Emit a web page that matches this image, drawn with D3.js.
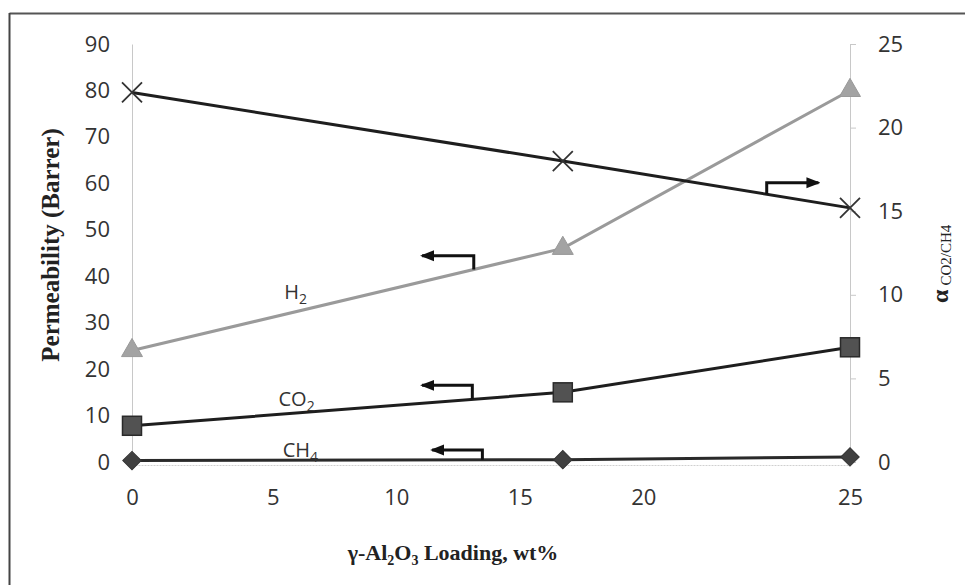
<!DOCTYPE html>
<html>
<head>
<meta charset="utf-8">
<script src="https://cdn.jsdelivr.net/npm/d3@7/dist/d3.min.js"></script>
<style>
  html, body { margin: 0; padding: 0; background: #fff; }
  svg { display: block; }
</style>
</head>
<body>
<svg id="chart" width="965" height="585"></svg>
<script>
// ---- data ----
const loading = [0, 15, 25];                 // γ-Al2O3 loading, wt%
const h2 = [24, 46, 80];                     // Barrer (left axis)
const co2 = [7.8, 15, 24.7];                 // Barrer (left axis)
const ch4 = [0.3, 0.5, 1.1];                 // Barrer (left axis)
const selectivity = [22.1, 18.0, 15.2];      // α CO2/CH4 (right axis)
const xTicks = [0, 5, 10, 15, 20, 25];
const yLeftTicks = [0, 10, 20, 30, 40, 50, 60, 70, 80, 90];
const yRightTicks = [0, 5, 10, 15, 20, 25];
// annotation arrows: elbow at x0 (on series), arrow tip at x1, top level yTop (axis units)
const arrows = [
  { series: "h2",  axis: "L", x0: 11.9, x1: 10.1, yTop: 44.4 },
  { series: "co2", axis: "L", x0: 11.85, x1: 10.1, yTop: 16.5 },
  { series: "ch4", axis: "L", x0: 12.2, x1: 10.45, yTop: 2.6 },
  { series: "sel", axis: "R", x0: 22.1, x1: 23.9, yTop: 16.7 }
];

const svg = d3.select("#chart");
const x = d3.scaleLinear().domain([0, 25]).range([132, 850]);
const yL = d3.scaleLinear().domain([0, 90]).range([462, 44]);
const yR = d3.scaleLinear().domain([0, 25]).range([462, 44]);
// tick labels of the source are not evenly spread along the data axis
const xLab = d3.scaleLinear().domain([0, 5, 20, 25]).range([x(0), x(4.9), x(17.8), x(25)]);

const seriesVals = { h2: h2, co2: co2, ch4: ch4, sel: selectivity };
const interp = (vals, xv) => d3.scaleLinear().domain(loading).range(vals)(xv);

// ---- frame ----
svg.append("line").attr("x1", 9.5).attr("x2", 965).attr("y1", 13.5).attr("y2", 13.5)
  .attr("stroke", "#555").attr("stroke-width", 2);
svg.append("line").attr("x1", 9.5).attr("x2", 9.5).attr("y1", 13).attr("y2", 585)
  .attr("stroke", "#444").attr("stroke-width", 2);

const tickFont = "'Open Sans', 'DejaVu Sans', sans-serif";

// ---- axes ----
const gL = svg.append("g").attr("transform", `translate(${x(0)},0)`)
  .call(d3.axisLeft(yL).tickValues(yLeftTicks).tickSize(0).tickPadding(22));
gL.select(".domain").attr("stroke", "#c8c8c8").attr("stroke-width", 1);
gL.selectAll("text").attr("font-family", tickFont).attr("font-size", 22).attr("fill", "#333");

const gR = svg.append("g").attr("transform", `translate(${x(25)},0)`)
  .call(d3.axisRight(yR).tickValues(yRightTicks).tickSize(6).tickPadding(22));
gR.select(".domain").attr("stroke", "#c8c8c8").attr("stroke-width", 1);
gR.selectAll(".tick line").attr("stroke", "#c8c8c8");
gR.selectAll("text").attr("font-family", tickFont).attr("font-size", 22).attr("fill", "#333");

const gB = svg.append("g").attr("transform", `translate(0,${yL(0)})`)
  .call(d3.axisBottom(xLab).tickValues(xTicks).tickSize(0).tickPadding(27));
gB.select(".domain").remove();
gB.selectAll("text").attr("font-family", tickFont).attr("font-size", 22).attr("fill", "#333");

const gBase = svg.append("g").attr("transform", `translate(0,${yL(0) + 3})`)
  .call(d3.axisBottom(x).tickValues([]).tickSizeOuter(0));
gBase.select(".domain").attr("stroke", "#d0d0d0").attr("stroke-width", 1).attr("stroke-dasharray", "2,1");

// ---- lines ----
const lineL = d3.line().x((d, i) => x(loading[i])).y(d => yL(d));
const lineR = d3.line().x((d, i) => x(loading[i])).y(d => yR(d));

svg.append("path").datum(h2).attr("d", lineL).attr("fill", "none")
  .attr("stroke", "#9a9a9a").attr("stroke-width", 3);
svg.append("path").datum(co2).attr("d", lineL).attr("fill", "none")
  .attr("stroke", "#1e1e1e").attr("stroke-width", 3);
svg.append("path").datum(ch4).attr("d", lineL).attr("fill", "none")
  .attr("stroke", "#2a2a2a").attr("stroke-width", 3);
svg.append("path").datum(selectivity).attr("d", lineR).attr("fill", "none")
  .attr("stroke", "#1e1e1e").attr("stroke-width", 3);

// ---- markers ----
svg.selectAll(".tri").data(h2).enter().append("path")
  .attr("transform", (d, i) => `translate(${x(loading[i])},${yL(d)})`)
  .attr("d", d3.symbol().type(d3.symbolTriangle).size(190))
  .attr("fill", "#a3a3a3").attr("stroke", "#999").attr("stroke-width", 1);

svg.selectAll(".sq").data(co2).enter().append("rect")
  .attr("x", (d, i) => x(loading[i]) - 9.5).attr("y", d => yL(d) - 9.5)
  .attr("width", 19).attr("height", 19)
  .attr("fill", "#525252").attr("stroke", "#2a2a2a").attr("stroke-width", 1.5);

svg.selectAll(".dia").data(ch4).enter().append("path")
  .attr("transform", (d, i) => `translate(${x(loading[i])},${yL(d)}) rotate(45)`)
  .attr("d", d3.symbol().type(d3.symbolSquare).size(170))
  .attr("fill", "#404040").attr("stroke", "#333").attr("stroke-width", 1);

svg.selectAll(".cross").data(selectivity).enter().append("path")
  .attr("transform", (d, i) => `translate(${x(loading[i])},${yR(d)})`)
  .attr("d", "M-10,-10L10,10M-10,10L10,-10")
  .attr("fill", "none").attr("stroke", "#333").attr("stroke-width", 1.8);

// ---- arrows ----
svg.append("defs").append("marker")
  .attr("id", "head").attr("markerUnits", "userSpaceOnUse")
  .attr("viewBox", "0 -6 14 12").attr("refX", 12).attr("refY", 0)
  .attr("markerWidth", 14).attr("markerHeight", 12).attr("orient", "auto")
  .append("path").attr("d", "M0,-5.5L14,0L0,5.5Z").attr("fill", "#111");

arrows.forEach(a => {
  const ys = a.axis === "L" ? yL : yR;
  const yBottom = ys(interp(seriesVals[a.series], a.x0));
  const p = d3.path();
  p.moveTo(x(a.x0), yBottom);
  p.lineTo(x(a.x0), ys(a.yTop));
  p.lineTo(x(a.x1), ys(a.yTop));
  svg.append("path").attr("d", p.toString()).attr("fill", "none")
    .attr("stroke", "#111").attr("stroke-width", 3)
    .attr("marker-end", "url(#head)");
});

// ---- series labels ----
function subLabel(tx, ty, main, sub) {
  const t = svg.append("text").attr("x", tx).attr("y", ty)
    .attr("font-family", tickFont).attr("font-size", 20).attr("fill", "#333");
  t.append("tspan").text(main);
  t.append("tspan").attr("font-size", 14).attr("dy", 5).text(sub);
}
subLabel(x(5.3), yL(35.2), "H", "2");
subLabel(x(5.1), yL(12), "CO", "2");
subLabel(x(5.25), yL(1.1), "CH", "4");

// ---- axis titles ----
const serif = "'Liberation Serif', 'Times New Roman', serif";
svg.append("text")
  .attr("transform", `translate(59,${(yL(0) + yL(90)) / 2 - 8}) rotate(-90)`)
  .attr("text-anchor", "middle").attr("font-family", serif).attr("font-weight", "bold")
  .attr("font-size", 25).attr("fill", "#222").text("Permeability (Barrer)");

const bt = svg.append("text").attr("x", 453).attr("y", 560)
  .attr("text-anchor", "middle").attr("font-family", serif).attr("font-weight", "bold")
  .attr("font-size", 22).attr("fill", "#222");
bt.append("tspan").text("γ-Al");
bt.append("tspan").attr("font-size", 14).attr("dy", 5).text("2");
bt.append("tspan").attr("dy", -5).text("O");
bt.append("tspan").attr("font-size", 14).attr("dy", 5).text("3");
bt.append("tspan").attr("dy", -5).text(" Loading, wt%");

const rt = svg.append("text")
  .attr("transform", `translate(948,303) rotate(-90)`)
  .attr("font-family", serif).attr("fill", "#222");
rt.append("tspan").attr("font-size", 24).attr("font-weight", "bold").text("α");
rt.append("tspan").attr("font-size", 15).attr("dy", 3).attr("dx", 4).text("CO2/CH4");
</script>
</body>
</html>
